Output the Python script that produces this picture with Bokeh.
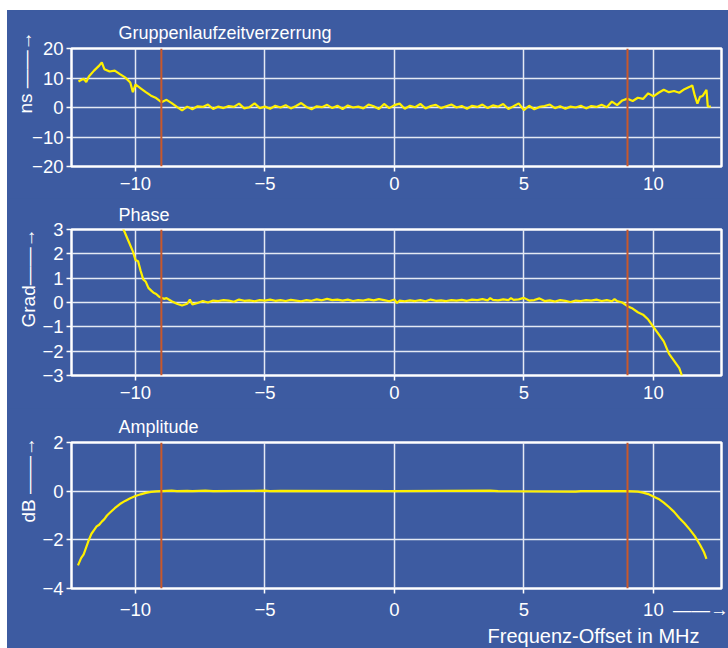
from bokeh.plotting import figure
from bokeh.layouts import column
from bokeh.models import Span, Title, FixedTicker, Range1d
from bokeh.embed import file_html
from bokeh.resources import INLINE

# ---------------- data ----------------
freq_gd = [-12.2, -12.0, -11.9, -11.8, -11.6, -11.4, -11.3, -11.2, -11.0, -10.8, -10.6, -10.4,
           -10.2, -10.1, -10.0, -9.8, -9.6, -9.4, -9.2, -9.0, -8.8, -8.6, -8.4, -8.2, -8.0,
           -7.8, -7.6, -7.4, -7.2, -7.0, -6.8, -6.6, -6.4, -6.2, -6.0, -5.8, -5.6, -5.4, -5.2,
           -5.0, -4.8, -4.6, -4.4, -4.2, -4.0, -3.8, -3.6, -3.4, -3.2, -3.0, -2.8, -2.6, -2.4,
           -2.2, -2.0, -1.8, -1.6, -1.4, -1.2, -1.0, -0.8, -0.6, -0.4, -0.2, 0.0, 0.2, 0.4,
           0.6, 0.8, 1.0, 1.2, 1.4, 1.6, 1.8, 2.0, 2.2, 2.4, 2.6, 2.8, 3.0, 3.2, 3.4, 3.6, 3.8,
           4.0, 4.2, 4.4, 4.6, 4.8, 5.0, 5.2, 5.4, 5.6, 5.8, 6.0, 6.2, 6.4, 6.6, 6.8, 7.0, 7.2,
           7.4, 7.6, 7.8, 8.0, 8.2, 8.4, 8.6, 8.8, 9.0, 9.2, 9.4, 9.6, 9.8, 10.0, 10.2, 10.4,
           10.6, 10.8, 11.0, 11.2, 11.4, 11.5, 11.6, 11.7, 11.8, 11.9, 12.05, 12.1, 12.22]
gd_ns = [8.8, 9.8, 8.6, 10.5, 12.5, 14.2, 15.3, 13.0, 12.2, 12.5, 11.3, 10.2,
         8.5, 5.2, 7.8, 6.5, 5.2, 4.0, 3.2, 1.8, 2.6, 1.5, 0.2, -1.0, 0.3,
         -0.6, 0.4, 0.2, 1.0, -0.5, 0.3, -0.2, 0.5, 0.2, 1.3, -0.3, 0.1, 1.4, -0.2,
         0.3, -0.4, 0.6, 0.0, 0.8, -0.3, 0.5, 1.5, 0.2, -0.6, 0.4, 0.1, 0.9, -0.2,
         0.6, -0.5, 0.7, 0.0, 0.3, -0.3, 1.0, 0.4, -0.5, 1.2, -0.2, 0.8, 1.3, -0.4,
         0.6, 0.1, 1.2, -0.3, 0.5, 0.9, -0.2, 0.4, 1.0, 0.0, 0.5, -0.4, 0.6, 0.2, 1.0, -0.2, 0.7,
         0.3, 1.2, -0.5, 0.4, 1.4, -0.9, 0.6, -0.6, 0.2, 0.5, 1.0, -0.2, 0.4, -0.4, 0.3, 0.0, 0.6,
         -0.3, 0.5, 0.2, 0.9, 0.1, 2.0, 0.8, 2.4, 3.0, 2.2, 3.3, 2.9, 4.8, 3.8, 5.0, 6.0,
         5.2, 5.6, 5.0, 6.2, 7.0, 7.5, 4.0, 1.3, 3.6, 3.9, 6.0, 0.4, 0.3]

freq_ph = [-10.5, -10.3, -10.1, -10.0, -9.9, -9.8, -9.7, -9.6, -9.5, -9.4, -9.3, -9.2, -9.1,
           -9.0, -8.9, -8.8, -8.6, -8.4, -8.2, -8.0, -7.9, -7.8, -7.6, -7.4, -7.2, -7.0,
           -6.8, -6.6, -6.4, -6.2, -6.0, -5.8, -5.6, -5.4, -5.2, -5.0, -4.8, -4.6, -4.4,
           -4.2, -4.0, -3.8, -3.6, -3.4, -3.2, -3.0, -2.8, -2.6, -2.4, -2.2, -2.0, -1.8,
           -1.6, -1.4, -1.2, -1.0, -0.8, -0.6, -0.4, -0.2, 0.0, 0.1, 0.2, 0.4, 0.6, 0.8,
           1.0, 1.2, 1.4, 1.6, 1.8, 2.0, 2.2, 2.4, 2.6, 2.8, 3.0, 3.2, 3.4, 3.6, 3.7, 3.8,
           4.0, 4.2, 4.4, 4.5, 4.6, 4.8, 5.0, 5.2, 5.4, 5.6, 5.8, 6.0, 6.2, 6.4, 6.6, 6.8,
           7.0, 7.2, 7.4, 7.6, 7.8, 8.0, 8.2, 8.4, 8.5, 8.6, 8.8, 9.0, 9.2, 9.4, 9.6, 9.8,
           10.0, 10.2, 10.4, 10.6, 10.8, 11.0, 11.1]
phase_deg = [3.1, 2.6, 2.1, 1.75, 1.7, 1.3, 0.95, 0.85, 0.6, 0.5, 0.4, 0.35, 0.25,
             0.2, 0.15, 0.18, 0.05, -0.05, -0.12, -0.05, 0.12, -0.08, -0.02, 0.06, 0.0, 0.08,
             0.06, 0.1, 0.08, 0.03, 0.12, 0.07, 0.09, 0.05, 0.1, 0.08, 0.12, 0.07, 0.1,
             0.06, 0.11, 0.08, 0.05, 0.1, 0.07, 0.13, 0.09, 0.15, 0.1, 0.12, 0.08, 0.12,
             0.06, 0.1, 0.08, 0.13, 0.09, 0.14, 0.1, 0.05, 0.12, -0.02, 0.08, 0.05, 0.09, 0.06,
             0.1, 0.05, 0.12, 0.07, 0.09, 0.06, 0.1, 0.08, 0.11, 0.07, 0.12, 0.1, 0.14, 0.09, 0.18, 0.11,
             0.09, 0.13, 0.1, 0.18, 0.11, 0.13, 0.19, 0.08, 0.1, 0.17, 0.06, 0.09, 0.04, 0.1, 0.07, 0.02,
             0.08, 0.06, 0.1, 0.08, 0.12, 0.06, 0.1, 0.05, 0.14, 0.06, 0.0, -0.15, -0.25, -0.4, -0.5, -0.7,
             -1.0, -1.3, -1.6, -2.1, -2.4, -2.7, -3.0]

freq_amp = [-12.22, -12.1, -12.0, -11.9, -11.8, -11.7, -11.6, -11.5, -11.4, -11.3, -11.2, -11.1,
            -11.0, -10.8, -10.6, -10.4, -10.2, -10.0, -9.8, -9.6, -9.4, -9.2, -9.0, -8.6, -8.4,
            -8.0, -7.8, -7.3, -7.0, -5.0, -4.8, -4.4, 0.0, 3.7, 4.0, 7.0, 7.2, 8.9, 9.2, 9.4,
            9.6, 9.8, 10.0, 10.2, 10.4, 10.6, 10.8, 11.0, 11.2, 11.4, 11.6, 11.8, 11.95, 12.05]
amp_db = [-3.05, -2.75, -2.6, -2.3, -2.0, -1.75, -1.6, -1.45, -1.38, -1.25, -1.15, -1.0,
          -0.9, -0.7, -0.53, -0.4, -0.29, -0.2, -0.13, -0.07, -0.03, -0.01, 0.0, 0.02, 0.0,
          0.01, 0.0, 0.02, 0.0, 0.02, 0.0, 0.01, 0.0, 0.02, 0.0, -0.02, 0.0, 0.0, -0.01, -0.02,
          -0.06, -0.12, -0.22, -0.32, -0.47, -0.65, -0.85, -1.1, -1.32, -1.57, -1.85, -2.2, -2.5, -2.78]

band_edges = [-9, 9]
x_ticks = [-10, -5, 0, 5, 10]
x_tick_labels = ["\u221210", "\u22125", "0", "5", "10"]
gd_ticks = [-20, -10, 0, 10, 20]
gd_tick_labels = ["\u221220", "\u221210", "0", "10", "20"]
ph_ticks = [-3, -2, -1, 0, 1, 2, 3]
ph_tick_labels = ["\u22123", "\u22122", "\u22121", "0", "1", "2", "3"]
amp_ticks = [-4, -2, 0, 2]
amp_tick_labels = ["\u22124", "\u22122", "0", "2"]

ARROW = "\u2014\u2014\u2192"

# ---------------- styling ----------------
BG = "#3d5ba1"
YEL = "#fff000"
RED = "#c9582b"
FONT = "Liberation Sans"
X0, X1 = -12.47, 12.63


def make_fig(h, top, bottom, y0, y1, yticks, ylabels, title, title_standoff):
    p = figure(width=721, height=h, x_range=Range1d(X0, X1), y_range=Range1d(y0, y1),
               output_backend="svg", toolbar_location=None, tools="",
               min_border_left=64, min_border_right=7, min_border_top=top,
               min_border_bottom=bottom)
    p.background_fill_color = BG
    p.border_fill_color = BG
    p.outline_line_color = "white"
    p.outline_line_width = 2.5
    p.outline_line_alpha = 1.0
    p.title.text = title
    p.title.align = "left"
    p.title.offset = 47
    p.title.standoff = title_standoff
    p.title.text_color = "white"
    p.title.text_font = FONT
    p.title.text_font_size = "18px"
    p.title.text_font_style = "normal"
    for ax in (p.xaxis[0], p.yaxis[0]):
        ax.axis_line_color = None
        ax.major_tick_line_color = "white"
        ax.major_tick_line_width = 1.5
        ax.major_tick_out = 5
        ax.major_tick_in = 0
        ax.minor_tick_line_color = None
        ax.major_label_text_color = "white"
        ax.major_label_text_font = FONT
        ax.major_label_text_font_size = "18.5px"
    p.xaxis.ticker = FixedTicker(ticks=x_ticks)
    p.xaxis.major_label_overrides = dict(zip(x_ticks, x_tick_labels))
    p.xaxis.major_label_standoff = 5
    p.yaxis.ticker = FixedTicker(ticks=yticks)
    p.yaxis.major_label_overrides = dict(zip(yticks, ylabels))
    p.yaxis.major_label_standoff = 3
    p.xgrid.ticker = FixedTicker(ticks=x_ticks)
    p.grid.grid_line_color = "#e4e9f4"
    p.grid.grid_line_width = 1.5
    for b in band_edges:
        p.add_layout(Span(location=b, dimension="height", line_color=RED, line_width=2))
    return p


def add_ylabel(p, text, offset, standoff):
    p.add_layout(Title(text=text, align="left", offset=offset, standoff=standoff,
                       text_color="white", text_font=FONT, text_font_size="19px",
                       text_font_style="normal"), "left")


# panel 1
p1 = make_fig(188, 38, 32, -20, 20, gd_ticks, gd_tick_labels, "Gruppenlaufzeitverzerrung", 12)
p1.line(freq_gd, gd_ns, line_color=YEL, line_width=2.2)
add_ylabel(p1, "ns " + ARROW, 53, -13)

# panel 2
p2 = make_fig(210, 31, 33, -3, 3, ph_ticks, ph_tick_labels, "Phase", 9)
p2.line(freq_ph, phase_deg, line_color=YEL, line_width=2.2)
add_ylabel(p2, "Grad" + ARROW, 48, 2)

# panel 3
amp_x_labels = list(x_tick_labels)
amp_x_labels[-1] = "\u2003\u2003\u2003\u2002" + x_tick_labels[-1] + "\u2002" + ARROW
p3 = make_fig(240, 33, 60, -4, 2, amp_ticks, amp_tick_labels, "Amplitude", 12)
p3.xaxis.major_label_overrides = dict(zip(x_ticks, amp_x_labels))
p3.line(freq_amp, amp_db, line_color=YEL, line_width=2.2)
add_ylabel(p3, "dB " + ARROW, 66, 1)
p3.add_layout(Title(text="Frequenz-Offset in MHz", align="right", offset=22, standoff=0,
                    text_color="white", text_font=FONT, text_font_size="20px",
                    text_font_style="normal"), "below")

layout = column(p1, p2, p3, spacing=0, margin=(10, 0, 0, 7),
                styles={"background-color": BG})
open("out.html", "w").write(file_html(layout, INLINE))
